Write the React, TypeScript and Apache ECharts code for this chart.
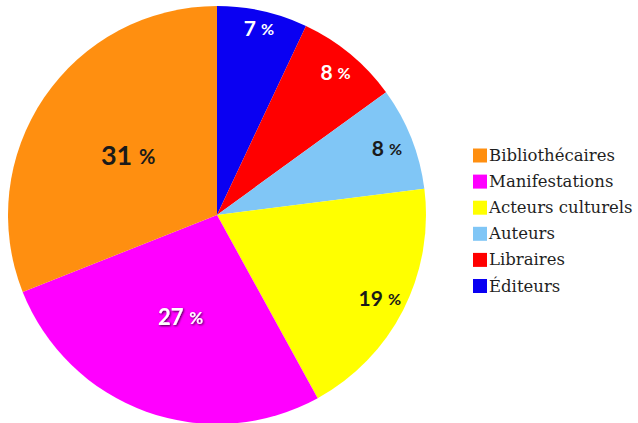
import React, { useEffect, useRef } from "react";
import * as echarts from "echarts";

const categories = ["Éditeurs", "Libraires", "Auteurs", "Acteurs culturels", "Manifestations", "Bibliothécaires"];
const values = [7, 8, 8, 19, 27, 31];
const colors = ["#0A00F2", "#FF0000", "#80C6F6", "#FFFF00", "#FF00FF", "#FF8F10"];
const labelColors = ["#ffffff", "#ffffff", "#1a1a1a", "#1a1a1a", "#ffffff", "#1a1a1a"];
const labelShadow = [false, false, false, false, true, false];
const labelSizes = [21, 21, 21, 21, 22, 27];
const radialFactors = [1.79, 1.73, 1.7, 1.7, 1.0, 1.0];
const legendOrder = ["Bibliothécaires", "Manifestations", "Acteurs culturels", "Auteurs", "Libraires", "Éditeurs"];

const CX = 217;
const CY = 215;

export default function App() {
  const ref = useRef<HTMLDivElement>(null);
  useEffect(() => {
    if (!ref.current) return;
    const chart = echarts.init(ref.current, null, { renderer: "svg" });
    const data = categories.map((name, i) => ({
      name,
      value: values[i],
      itemStyle: { color: colors[i] },
      label: {
        color: labelColors[i],
        textShadowColor: labelShadow[i] ? "rgba(0,0,0,0.75)" : "transparent",
        textShadowBlur: labelShadow[i] ? 2 : 0,
        textShadowOffsetX: labelShadow[i] ? 1 : 0,
        textShadowOffsetY: labelShadow[i] ? 1 : 0,
        rich: {
          n: { fontSize: labelSizes[i], fontWeight: 700, fontFamily: "Lato", color: labelColors[i] },
          s: { fontSize: Math.round(labelSizes[i] * 0.45), color: labelColors[i] },
          p: { fontSize: Math.round(labelSizes[i] * 0.75), fontWeight: 700, fontFamily: "Lato", color: labelColors[i], padding: [2, 0, 0, 0] },
        },
      },
    }));
    chart.setOption({
      animation: false,
      backgroundColor: "#ffffff",
      legend: {
        data: legendOrder,
        orient: "vertical",
        left: 468,
        top: 142,
        itemWidth: 14,
        itemHeight: 14,
        itemGap: 9.1,
        icon: "rect",
        selectedMode: false,
        textStyle: {
          fontFamily: "DejaVu Serif",
          fontSize: 16.5,
          lineHeight: 16,
          color: "#1f1f1f",
          padding: [0, 0, 0, -3],
        },
      },
      series: [
        {
          type: "pie",
          center: [CX, CY],
          radius: 209,
          startAngle: 90,
          clockwise: true,
          silent: true,
          data,
          label: {
            show: true,
            position: "inside",
            formatter: (p: any) => `{n|${p.value}}{s| }{s| }{p|%}`,
          },
          labelLine: { show: false },
          labelLayout: (p: any) => {
            const f = radialFactors[p.dataIndex];
            const lx = p.labelRect.x + p.labelRect.width / 2;
            const ly = p.labelRect.y + p.labelRect.height / 2;
            return {
              x: CX + (lx - CX) * f,
              y: CY + (ly - CY) * f,
              align: "center",
              verticalAlign: "middle",
            };
          },
        },
      ],
    });
    return () => chart.dispose();
  }, []);
  return (
    <div
      ref={ref}
      style={{ position: "absolute", left: 0, top: 0, width: 638, height: 423 }}
    />
  );
}
